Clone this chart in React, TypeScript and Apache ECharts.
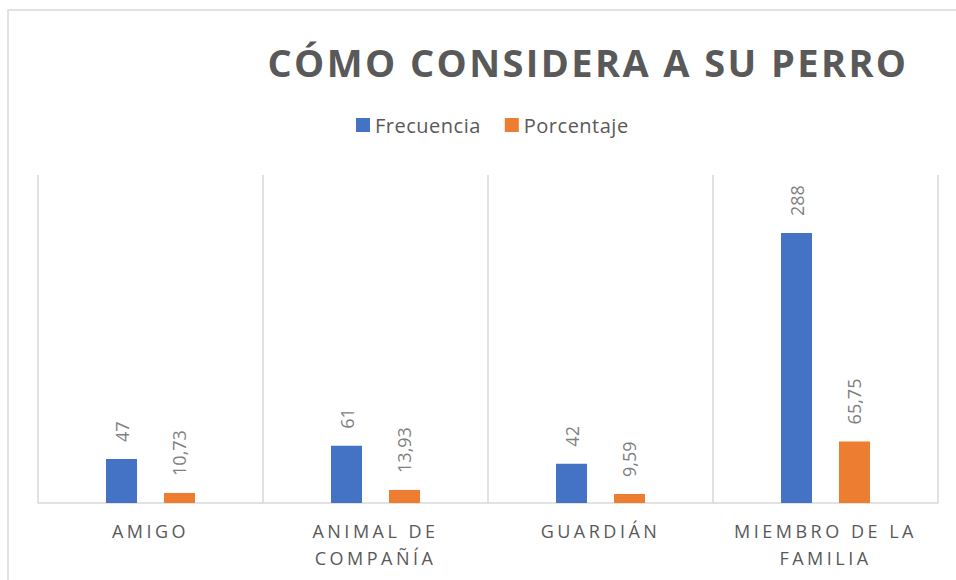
import React, { useEffect, useRef } from "react";
import * as echarts from "echarts";

const TITLE = "CÓMO CONSIDERA A SU PERRO";
const categories = ["AMIGO", "ANIMAL DE\nCOMPAÑÍA", "GUARDIÁN", "MIEMBRO DE LA\nFAMILIA"];
const seriesNames = ["Frecuencia", "Porcentaje"];
const frecuencia = [47, 61, 42, 288];
const porcentaje = [10.73, 13.93, 9.59, 65.75];
const yMax = 350;

const FONT = "'Open Sans', 'Noto Sans', sans-serif";

export default function App() {
  const ref = useRef<HTMLDivElement>(null);

  useEffect(() => {
    if (!ref.current) return;
    const el = ref.current;
    const chart = echarts.init(el, undefined, { renderer: "svg" });

    const catLines: string[] = [];
    categories.forEach((c) => c.split("\n").forEach((l) => catLines.push(l)));

    const applySpacing = () => {
      el.querySelectorAll("text").forEach((t) => {
        const s = (t.textContent || "").trim();
        if (s === TITLE) (t as SVGTextElement).style.letterSpacing = "2.4px";
        else if (catLines.includes(s)) (t as SVGTextElement).style.letterSpacing = "3.5px";
        else if (seriesNames.includes(s)) (t as SVGTextElement).style.letterSpacing = "0.5px";
      });
    };

    const labelCommon = {
      show: true,
      position: "top" as const,
      rotate: 90,
      align: "left" as const,
      verticalAlign: "middle" as const,
      distance: 17,
      fontSize: 18,
      fontFamily: FONT,
      color: "#7f7f7f",
    };

    chart.setOption({
      animation: false,
      textStyle: { fontFamily: FONT },
      graphic: [
        {
          type: "rect",
          z: -10,
          silent: true,
          shape: { x: 8, y: 10, width: 1400, height: 1000 },
          style: { fill: "none", stroke: "#d9d9d9", lineWidth: 1.5 },
        },
        {
          type: "text",
          x: 588,
          y: 62,
          style: {
            text: TITLE,
            textAlign: "center",
            textVerticalAlign: "middle",
            fontSize: 38,
            fontWeight: "bold",
            fontFamily: FONT,
            fill: "#595959",
          },
        },
      ],
      legend: {
        data: seriesNames,
        left: 356,
        top: 114,
        padding: 0,
        itemWidth: 14,
        itemHeight: 14,
        itemGap: 29,
        icon: "rect",
        textStyle: { fontSize: 20, color: "#595959", fontFamily: FONT, lineHeight: 22 },
      },
      grid: { left: 38, right: 18, top: 175, bottom: 77, containLabel: false },
      xAxis: {
        type: "category",
        data: categories,
        axisLine: { show: true, lineStyle: { color: "#d9d9d9", width: 1.5 } },
        axisTick: { show: false },
        splitLine: { show: true, lineStyle: { color: "#d9d9d9", width: 1.5 } },
        axisLabel: {
          interval: 0,
          color: "#595959",
          fontSize: 18,
          fontFamily: FONT,
          lineHeight: 27,
          margin: 14,
        },
      },
      yAxis: {
        type: "value",
        min: 0,
        max: yMax,
        show: false,
        splitLine: { show: false },
      },
      series: [
        {
          name: seriesNames[0],
          type: "bar",
          data: frecuencia,
          barWidth: 31,
          barGap: "87%",
          itemStyle: { color: "#4472C4" },
          label: { ...labelCommon },
        },
        {
          name: seriesNames[1],
          type: "bar",
          data: porcentaje,
          barWidth: 31,
          barGap: "87%",
          itemStyle: { color: "#ED7D31" },
          label: {
            ...labelCommon,
            formatter: (p: any) => Number(p.value).toFixed(2).replace(".", ","),
          },
        },
      ],
    });

    applySpacing();
    chart.on("finished", applySpacing);

    return () => {
      chart.dispose();
    };
  }, []);

  return (
    <div
      ref={ref}
      style={{ position: "absolute", left: 0, top: 0, width: 956, height: 580, background: "#fff" }}
    />
  );
}
